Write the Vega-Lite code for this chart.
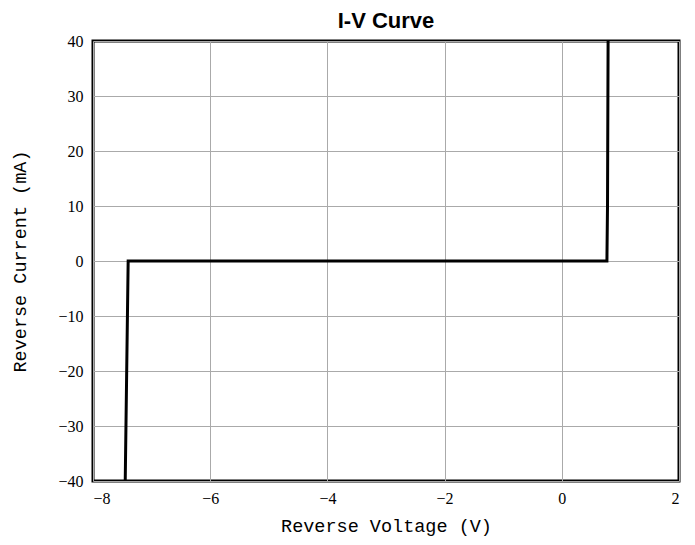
{
  "$schema": "https://vega.github.io/schema/vega-lite/v6.json",
  "autosize": "none",
  "width": 586,
  "height": 440,
  "padding": {"left": 93, "top": 41, "right": 16, "bottom": 64},
  "title": {"text": "I-V Curve", "font": "Liberation Sans", "fontSize": 22, "fontWeight": "bold", "color": "#000", "offset": 0, "anchor": "middle"},
  "data": {"values": [
    {"v": -7.45, "i": -40, "o": 0},
    {"v": -7.40, "i": 0, "o": 1},
    {"v": 0.77, "i": 0, "o": 2},
    {"v": 0.78, "i": 10, "o": 3},
    {"v": 0.79, "i": 40, "o": 4}
  ]},
  "mark": {"type": "line", "color": "#000", "strokeWidth": 3, "clip": true},
  "encoding": {
    "x": {"field": "v", "type": "quantitative", "scale": {"domain": [-8, 2], "nice": false, "zero": false},
      "axis": {"title": "Reverse Voltage (V)", "values": [-8, -6, -4, -2, 0, 2]}},
    "y": {"field": "i", "type": "quantitative", "scale": {"domain": [-40, 40], "nice": false},
      "axis": {"title": "Reverse Current (mA)", "values": [-40, -30, -20, -10, 0, 10, 20, 30, 40]}},
    "order": {"field": "o"}
  },
  "config": {
    "background": "#ffffff",
    "view": {"stroke": "#000", "strokeWidth": 3},
    "axis": {
      "domain": false,
      "ticks": false,
      "grid": true,
      "gridColor": "#aaaaaa",
      "gridWidth": 1,
      "gridOpacity": 1,
      "labelFont": "Liberation Serif",
      "labelFontSize": 16,
      "labelColor": "#000",
      "titleFont": "Liberation Mono",
      "titleFontSize": 18.5,
      "titleFontWeight": "normal",
      "titleColor": "#000"
    },
    "axisX": {"labelPadding": 9, "titlePadding": 10},
    "axisY": {"labelPadding": 10, "titlePadding": 28}
  }
}
